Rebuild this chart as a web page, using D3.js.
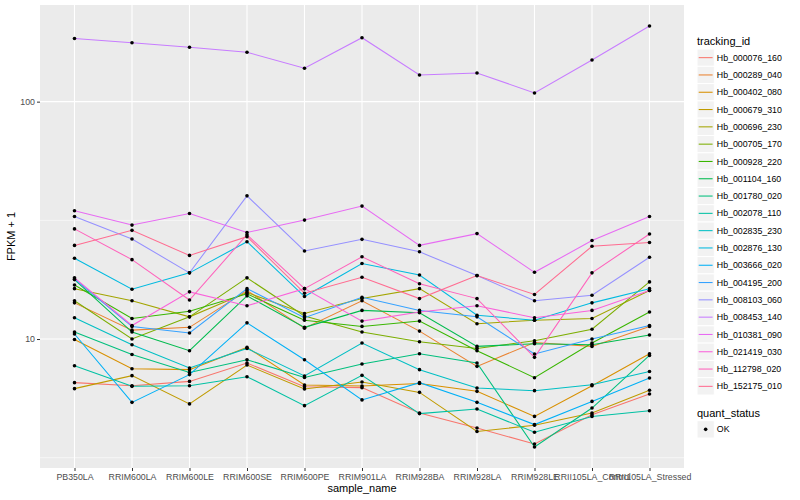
<!DOCTYPE html>
<html lang="en">
  <head>
    <meta charset="utf-8" />
    <title>FPKM by sample</title>
    <script src="https://d3js.org/d3.v7.min.js" charset="utf-8"></script>
    <style>
      body { margin: 0; background: #fff; }
      text { font-family: "Liberation Sans", Arial, sans-serif; }
    </style>
  </head>
  <body>
    <div id="graph-container"></div>
    <script type="text/javascript">
      const samples = ["PB350LA", "RRIM600LA", "RRIM600LE", "RRIM600SE", "RRIM600PE",
        "RRIM901LA", "RRIM928BA", "RRIM928LA", "RRIM928LE", "RRII105LA_Control", "RRII105LA_Stressed"];

      const trackingIds = ["Hb_000076_160", "Hb_000289_040", "Hb_000402_080", "Hb_000679_310",
        "Hb_000696_230", "Hb_000705_170", "Hb_000928_220", "Hb_001104_160", "Hb_001780_020",
        "Hb_002078_110", "Hb_002835_230", "Hb_002876_130", "Hb_003666_020", "Hb_004195_200",
        "Hb_008103_060", "Hb_008453_140", "Hb_010381_090", "Hb_021419_030", "Hb_112798_020",
        "Hb_152175_010"];

      // FPKM + 1 per sample, one array per tracking_id
      const hb000076_160 = [6.55, 6.36, 6.63, 7.92, 6.30, 6.24, 4.88, 4.22, 3.61, 4.80, 5.87];
      const hb000289_040 = [14.2, 10.9, 11.2, 16.0, 11.1, 14.5, 10.8, 7.67, 9.67, 9.31, 11.3];
      const hb000402_080 = [9.96, 7.50, 7.43, 9.22, 6.40, 6.34, 6.50, 6.02, 4.72, 6.36, 8.67];
      const hb000679_310 = [6.18, 7.01, 5.33, 7.77, 6.16, 6.59, 5.96, 4.08, 4.33, 4.88, 6.08];
      const hb000696_230 = [16.3, 14.5, 12.4, 15.7, 12.8, 14.8, 16.3, 11.6, 12.0, 12.2, 16.0];
      const hb000705_170 = [14.5, 10.0, 12.4, 18.1, 12.5, 10.7, 9.74, 9.13, 9.84, 11.0, 17.4];
      const hb000928_220 = [16.9, 12.2, 13.1, 15.5, 12.0, 11.3, 11.9, 8.93, 6.87, 9.62, 13.0];
      const hb001104_160 = [17.8, 10.7, 8.93, 15.2, 11.2, 13.2, 12.9, 9.31, 9.55, 9.46, 10.4];
      const hb001780_020 = [10.7, 8.61, 7.23, 8.18, 6.89, 7.85, 8.67, 7.92, 3.51, 5.12, 8.53];
      const hb002078_110 = [7.72, 6.32, 6.36, 6.94, 5.24, 7.03, 4.85, 5.07, 4.05, 4.72, 4.99];
      const hb002835_230 = [12.3, 9.46, 7.55, 9.13, 6.99, 9.62, 7.43, 6.22, 6.06, 6.42, 7.30];
      const hb002876_130 = [21.9, 16.2, 19.0, 25.7, 15.1, 20.8, 18.6, 12.6, 12.0, 14.2, 16.3];
      const hb003666_020 = [10.5, 5.41, 7.08, 11.7, 8.18, 5.54, 6.55, 5.41, 4.36, 5.46, 6.85];
      const hb004195_200 = [17.9, 11.3, 10.6, 16.3, 12.3, 15.0, 13.2, 12.4, 8.65, 10.0, 11.4];
      const hb008103_060 = [32.8, 26.4, 19.0, 40.1, 23.5, 26.3, 23.3, 18.5, 14.5, 15.3, 22.1];
      const hb008453_140 = [184.5, 177.1, 169.4, 161.4, 138.2, 185.9, 129.5, 132.1, 108.8, 149.8, 208.2];
      const hb010381_090 = [34.7, 30.2, 33.8, 28.1, 31.7, 36.3, 24.8, 27.8, 19.1, 26.0, 32.8];
      const hb021419_030 = [18.1, 11.4, 15.8, 13.8, 16.3, 11.9, 13.0, 13.8, 12.3, 13.2, 16.0];
      const hb112798_020 = [29.1, 21.6, 14.6, 27.5, 16.3, 22.2, 17.1, 14.8, 8.37, 19.0, 27.7];
      const hb152175_010 = [24.8, 28.7, 22.5, 27.0, 15.6, 18.2, 14.8, 18.5, 15.4, 24.6, 25.5];

      const yTicks = [10, 100];
      const quantStatus = ["OK"];

      const seriesValues = [hb000076_160, hb000289_040, hb000402_080, hb000679_310, hb000696_230,
        hb000705_170, hb000928_220, hb001104_160, hb001780_020, hb002078_110, hb002835_230,
        hb002876_130, hb003666_020, hb004195_200, hb008103_060, hb008453_140, hb010381_090,
        hb021419_030, hb112798_020, hb152175_010];

      // ggplot2 default hue palette for 20 levels
      const hueColors = ["#F8766D", "#EA8331", "#D89000", "#C09B00", "#A3A500", "#7CAE00",
        "#39B600", "#00BB4E", "#00BF7D", "#00C1A3", "#00BFC4", "#00BAE0", "#00B0F6", "#35A2FF",
        "#9590FF", "#C77CFF", "#E76BF3", "#FA62DB", "#FF62BC", "#FF6C91"];

      const series = trackingIds.map((id, i) => ({
        id: id,
        color: hueColors[i],
        points: samples.map((s, j) => ({ sample: s, value: seriesValues[i][j] })),
      }));

      const cW = 800,
        cH = 500,
        cLeft = 40,
        cRight = 684,
        cTop = 5,
        cBottom = 468;

      const svg = d3
        .select("#graph-container")
        .append("svg")
        .attr("width", cW)
        .attr("height", cH);

      const xScale = d3.scalePoint().domain(samples).range([cLeft, cRight]).padding(0.6);

      // log scale with 5% expansion in log space, like ggplot
      const allValues = seriesValues.flat();
      const lMin = Math.log10(d3.min(allValues)),
        lMax = Math.log10(d3.max(allValues)),
        lPad = (lMax - lMin) * 0.05;
      const yScale = d3
        .scaleLog()
        .domain([Math.pow(10, lMin - lPad), Math.pow(10, lMax + lPad)])
        .range([cBottom, cTop]);

      //panel
      svg
        .append("rect")
        .attr("x", cLeft)
        .attr("y", cTop)
        .attr("width", cRight - cLeft)
        .attr("height", cBottom - cTop)
        .attr("fill", "#EBEBEB");

      const grid = svg.append("g");
      const minorTicks = [Math.pow(10, 0.5), Math.pow(10, 1.5)];
      grid
        .selectAll(".minor")
        .data(minorTicks)
        .enter()
        .append("line")
        .attr("x1", cLeft)
        .attr("x2", cRight)
        .attr("y1", (d) => yScale(d))
        .attr("y2", (d) => yScale(d))
        .attr("stroke", "#fff")
        .attr("stroke-width", 0.55);
      grid
        .selectAll(".major")
        .data(yTicks)
        .enter()
        .append("line")
        .attr("x1", cLeft)
        .attr("x2", cRight)
        .attr("y1", (d) => yScale(d))
        .attr("y2", (d) => yScale(d))
        .attr("stroke", "#fff")
        .attr("stroke-width", 1.1);
      grid
        .selectAll(".vert")
        .data(samples)
        .enter()
        .append("line")
        .attr("x1", (d) => xScale(d))
        .attr("x2", (d) => xScale(d))
        .attr("y1", cTop)
        .attr("y2", cBottom)
        .attr("stroke", "#fff")
        .attr("stroke-width", 1.1);

      //lines
      const line = d3
        .line()
        .x((d) => xScale(d.sample))
        .y((d) => yScale(d.value));
      svg
        .append("g")
        .selectAll("path")
        .data(series)
        .enter()
        .append("path")
        .attr("d", (d) => line(d.points))
        .attr("fill", "none")
        .attr("stroke", (d) => d.color)
        .attr("stroke-width", 1.05);

      //points
      svg
        .append("g")
        .selectAll("circle")
        .data(series.flatMap((d) => d.points))
        .enter()
        .append("circle")
        .attr("cx", (d) => xScale(d.sample))
        .attr("cy", (d) => yScale(d.value))
        .attr("r", 1.8)
        .attr("fill", "#000");

      //axes
      const xAxis = d3.axisBottom(xScale).tickSize(3).tickPadding(3);
      svg
        .append("g")
        .attr("transform", `translate(0,${cBottom})`)
        .call(xAxis)
        .call((g) => g.select(".domain").remove())
        .call((g) => g.selectAll("line").attr("stroke", "#333"))
        .call((g) =>
          g.selectAll("text").attr("fill", "#4D4D4D").style("font-size", "8.8px")
        );

      const yAxis = d3
        .axisLeft(yScale)
        .tickValues(yTicks)
        .tickFormat(d3.format("d"))
        .tickSize(3)
        .tickPadding(2);
      svg
        .append("g")
        .attr("transform", `translate(${cLeft},0)`)
        .call(yAxis)
        .call((g) => g.select(".domain").remove())
        .call((g) => g.selectAll("line").attr("stroke", "#333"))
        .call((g) =>
          g.selectAll("text").attr("fill", "#4D4D4D").style("font-size", "8.8px")
        );

      svg
        .append("text")
        .attr("x", (cLeft + cRight) / 2)
        .attr("y", 492)
        .attr("text-anchor", "middle")
        .style("font-size", "11px")
        .text("sample_name");
      svg
        .append("text")
        .attr("transform", `translate(15,${(cTop + cBottom) / 2}) rotate(-90)`)
        .attr("text-anchor", "middle")
        .style("font-size", "11px")
        .text("FPKM + 1");

      //legend handle
      const cKey = 17.3,
        cLegX = 697,
        cKeyTop = 49;
      const legend = svg.append("g").attr("id", "legend");
      legend
        .append("text")
        .attr("x", cLegX)
        .attr("y", 44.5)
        .style("font-size", "11px")
        .text("tracking_id");
      const keys = legend
        .selectAll(".key")
        .data(series)
        .enter()
        .append("g")
        .attr("transform", (d, i) => `translate(${cLegX},${cKeyTop + i * cKey})`);
      keys
        .append("rect")
        .attr("width", cKey)
        .attr("height", cKey)
        .attr("fill", "#F2F2F2")
        .attr("stroke", "#fff")
        .attr("stroke-width", 1);
      keys
        .append("line")
        .attr("x1", 1.7)
        .attr("x2", cKey - 1.7)
        .attr("y1", cKey / 2)
        .attr("y2", cKey / 2)
        .attr("stroke", (d) => d.color)
        .attr("stroke-width", 1.05);
      keys
        .append("text")
        .attr("x", cKey + 2.5)
        .attr("y", cKey / 2 + 3.1)
        .style("font-size", "8.8px")
        .text((d) => d.id);

      const qTop = 412.7;
      legend
        .append("text")
        .attr("x", cLegX)
        .attr("y", qTop + 4)
        .style("font-size", "11px")
        .text("quant_status");
      const qKeys = legend
        .selectAll(".qkey")
        .data(quantStatus)
        .enter()
        .append("g")
        .attr("transform", (d, i) => `translate(${cLegX},${qTop + 8 + i * cKey})`);
      qKeys
        .append("rect")
        .attr("width", cKey)
        .attr("height", cKey)
        .attr("fill", "#F2F2F2")
        .attr("stroke", "#fff");
      qKeys
        .append("circle")
        .attr("cx", cKey / 2)
        .attr("cy", cKey / 2)
        .attr("r", 1.8)
        .attr("fill", "#000");
      qKeys
        .append("text")
        .attr("x", cKey + 2.5)
        .attr("y", cKey / 2 + 3.1)
        .style("font-size", "8.8px")
        .text((d) => d);
    </script>
  </body>
</html>
